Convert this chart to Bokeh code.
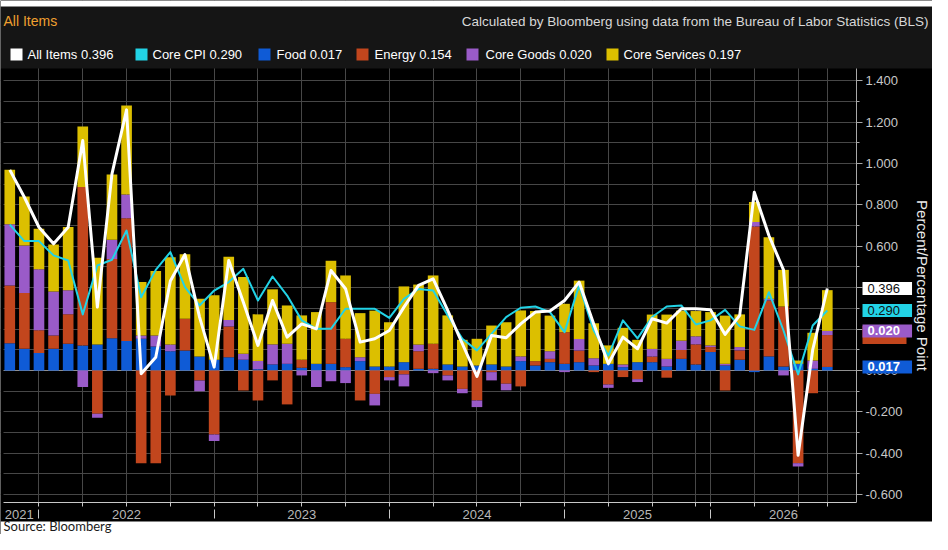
import numpy as np
from bokeh.plotting import figure
from bokeh.models import (ColumnDataSource, Range1d, FixedTicker, PrintfTickFormatter,
                          LinearAxis, Label, Grid, BoxAnnotation)
from bokeh.embed import file_html
from bokeh.resources import INLINE

# ---------------- data ----------------
food = [0.132, 0.105, 0.084, 0.105, 0.129, 0.121, 0.126, 0.156, 0.142, 0.153,
        0.116, 0.093, 0.097, 0.068, 0.052, 0.064, 0.052, 0.006, 0.029, 0.032,
        0.013, 0.032, 0.032, 0.016, 0.045, 0.019, 0.019, 0.040, 0.008, 0.008,
        0.029, 0.019, 0.024, 0.029, 0.019, 0.045, 0.024, 0.040, 0.032, 0.040,
        0.024, 0.032, 0.016, 0.040, 0.040, 0.019, 0.056, 0.029, 0.089, 0.024,
        0.052, -0.008, 0.068, 0.019, 0.032, 0.008, 0.017]
energy = [0.279, 0.269, 0.110, 0.064, 0.142, 0.765, -0.209, 0.383, 0.594, -0.448,
          -0.448, -0.121, 0.153, -0.048, -0.309, 0.148, -0.097, -0.145, -0.048, -0.164,
          0.039, 0.000, 0.298, 0.137, -0.145, -0.113, -0.032, -0.019, 0.085, 0.121,
          -0.024, -0.089, -0.145, -0.008, -0.064, -0.077, 0.021, 0.016, 0.153, 0.056,
          -0.008, -0.068, -0.032, -0.042, 0.027, -0.035, 0.043, 0.097, 0.024, -0.097,
          0.045, 0.696, 0.270, 0.290, -0.448, -0.110, 0.154]
core_goods = [0.295, 0.230, 0.295, 0.213, 0.116, -0.080, -0.019, 0.092, 0.114, 0.016,
              0.053, 0.032, 0.000, -0.052, -0.032, 0.032, 0.029, 0.040, 0.097, 0.097,
              -0.024, -0.080, -0.052, -0.061, 0.019, -0.056, -0.016, -0.058, 0.032, -0.013,
              -0.024, -0.021, -0.032, -0.040, -0.032, 0.023, 0.000, 0.037, -0.008, 0.056,
              0.035, -0.016, 0.013, -0.014, 0.037, 0.037, 0.045, 0.039, 0.008, 0.008,
              0.016, 0.021, 0.008, -0.024, -0.016, 0.040, 0.020]
core_services = [0.264, 0.237, 0.196, 0.227, 0.306, 0.293, 0.419, 0.316, 0.430, 0.258,
                 0.311, 0.422, 0.311, 0.279, 0.311, 0.306, 0.370, 0.225, 0.266, 0.185,
                 0.214, 0.250, 0.200, 0.306, 0.213, 0.270, 0.214, 0.366, 0.290, 0.330,
                 0.237, 0.129, 0.129, 0.188, 0.214, 0.222, 0.242, 0.172, 0.137, 0.282,
                 0.169, 0.089, 0.177, 0.108, 0.166, 0.214, 0.145, 0.122, 0.161, 0.233,
                 0.158, 0.097, 0.298, 0.177, 0.016, 0.134, 0.197]
all_items = [0.969, 0.837, 0.692, 0.612, 0.692, 1.111, 0.306, 0.950, 1.259, -0.016,
             0.064, 0.432, 0.560, 0.258, 0.016, 0.531, 0.330, 0.121, 0.338, 0.161,
             0.225, 0.201, 0.483, 0.395, 0.137, 0.153, 0.193, 0.306, 0.411, 0.443,
             0.290, 0.129, -0.029, 0.169, 0.158, 0.225, 0.282, 0.287, 0.338, 0.427,
             0.225, 0.032, 0.161, 0.105, 0.250, 0.229, 0.298, 0.298, 0.293, 0.174,
             0.266, 0.861, 0.652, 0.486, -0.410, 0.100, 0.396]
core_cpi = [0.705, 0.625, 0.625, 0.556, 0.531, 0.271, 0.507, 0.535, 0.676, 0.354,
            0.486, 0.572, 0.403, 0.314, 0.386, 0.427, 0.491, 0.338, 0.454, 0.362,
            0.242, 0.201, 0.201, 0.298, 0.298, 0.298, 0.254, 0.346, 0.394, 0.386,
            0.266, 0.153, 0.097, 0.177, 0.258, 0.303, 0.309, 0.282, 0.185, 0.411,
            0.193, 0.072, 0.242, 0.155, 0.258, 0.309, 0.314, 0.222, 0.242, 0.293,
            0.213, 0.196, 0.378, 0.193, -0.019, 0.217, 0.290]

year_labels = ["2021", "2022", "2023", "2024", "2025", "2026"]
year_label_pos = [0.65, 8, 20, 32, 43, 53]
year_sep_pos = [2, 14, 26, 38, 48]
quarter_pos = [2, 5, 8, 11, 14, 17, 20, 23, 26, 29, 32, 35, 38, 41, 44, 47, 48, 51, 54, 56]
y_ticks = [-0.6, -0.4, -0.2, 0.0, 0.2, 0.4, 0.6, 0.8, 1.0, 1.2, 1.4]
y_minor = [round(-0.6 + 0.1 * k, 1) for k in range(21)]

# ---------------- styles / geometry ----------------
FONT = "Liberation Sans"
C_ALL = "#ffffff"
C_CORE = "#22d3e6"
C_FOOD = "#0f5bd6"
C_ENERGY = "#c2461d"
C_GOODS = "#9a5bc8"
C_SERV = "#dcbf00"
GRID = "#474747"
HEADER_BG = "#151515"
BLACK = "#000000"
WHITE = "#ffffff"

n = len(all_items)
idx = np.arange(n)

W, H = 932, 534
FL, FR, FT, FB = 3, 856, 68, 502          # plotting area inside the canvas (px)
X0, X1 = -0.43, 58.0                       # data extent of the plotting area
Y0, Y1 = -0.638, 1.459
PX_X = (FR - FL) / (X1 - X0)
PX_Y = (FB - FT) / (Y1 - Y0)
XS, XE = X0 - FL / PX_X, X1 + (W - FR) / PX_X
YS, YE = Y0 - (H - FB) / PX_Y, Y1 + FT / PX_Y


def dx(px):
    return XS + px / PX_X


def dy(py):
    return YE - py / PX_Y


p = figure(width=W, height=H, x_range=Range1d(XS, XE), y_range=Range1d(YS, YE),
           x_axis_type=None, y_axis_type=None, toolbar_location=None,
           output_backend="svg", background_fill_color=BLACK,
           border_fill_color=BLACK, outline_line_color=None, min_border=0)

# grids (then masked outside the plotting area)
p.add_layout(Grid(dimension=1, ticker=FixedTicker(ticks=y_minor), grid_line_color=GRID))
p.add_layout(Grid(dimension=0, ticker=FixedTicker(ticks=quarter_pos), grid_line_color=GRID))
p.add_layout(Grid(dimension=1, ticker=FixedTicker(ticks=[0.0]), grid_line_color="#8f8f8f"))


def box(left, right, top, bottom, color, level="underlay"):
    return BoxAnnotation(left=left, right=right, top=top, bottom=bottom,
                         fill_color=color, fill_alpha=1.0, line_color=None, level=level)


p.add_layout(box(XS, X0, Y1, Y0, BLACK))
p.add_layout(box(X1, XE, Y1, YS, BLACK))
p.add_layout(box(XS, X1, Y0, YS, BLACK))
p.add_layout(box(XS, XE, YE, Y1, HEADER_BG))
p.add_layout(box(XS, XE, YE, dy(6), WHITE))
p.add_layout(box(XS, XE, dy(521), YS, WHITE))

# right y axis drawn at the right edge of the plotting area
ya = LinearAxis(fixed_location=X1, bounds=(Y0, Y1),
                ticker=FixedTicker(ticks=y_ticks, minor_ticks=y_minor),
                formatter=PrintfTickFormatter(format="%.3f"),
                axis_line_color="#a8a8a8", major_tick_line_color="#a8a8a8",
                minor_tick_line_color="#a8a8a8", major_tick_out=6, major_tick_in=0,
                minor_tick_out=3, minor_tick_in=0, major_label_standoff=3,
                major_label_text_color="#c8c8c8", major_label_text_font=FONT,
                major_label_text_font_size="13px")
p.add_layout(ya, "right")

# bottom x axes: line + quarter ticks + year separators, and the year labels
axb = LinearAxis(fixed_location=Y0, bounds=(X0, X1),
                 ticker=FixedTicker(ticks=year_sep_pos, minor_ticks=quarter_pos),
                 axis_line_color="#c8c8c8",
                 major_tick_line_color="#c8c8c8", major_tick_in=-7, major_tick_out=16,
                 minor_tick_line_color="#c8c8c8", minor_tick_in=0, minor_tick_out=4,
                 major_label_text_font_size="0px", major_label_standoff=0,
                 major_label_overrides={s: "" for s in year_sep_pos})
axl = LinearAxis(fixed_location=Y0, bounds=(X0, X1), ticker=FixedTicker(ticks=year_label_pos),
                 axis_line_color=None, major_tick_line_color=None, minor_tick_line_color=None,
                 major_tick_out=0, major_tick_in=0, minor_tick_out=0, minor_tick_in=0,
                 major_label_overrides={pos: lab for pos, lab in zip(year_label_pos, year_labels)},
                 major_label_standoff=7, major_label_text_color="#b8b8b8",
                 major_label_text_font=FONT, major_label_text_font_size="13px")
p.add_layout(axb, "below")
p.add_layout(axl, "below")

# stacked bars: positives and negatives stacked separately
comps = [(food, C_FOOD), (energy, C_ENERGY), (core_goods, C_GOODS), (core_services, C_SERV)]
pos_base = np.zeros(n)
neg_base = np.zeros(n)
for vals, col in comps:
    v = np.array(vals, dtype=float)
    pos = np.where(v > 0, v, 0.0)
    neg = np.where(v < 0, v, 0.0)
    src = ColumnDataSource(dict(x=idx, pb=pos_base.copy(), pt=pos_base + pos,
                                nb=neg_base.copy(), nt=neg_base + neg))
    p.vbar(x="x", bottom="pb", top="pt", width=0.73, fill_color=col, line_color=None, source=src)
    p.vbar(x="x", bottom="nb", top="nt", width=0.73, fill_color=col, line_color=None, source=src)
    pos_base = pos_base + pos
    neg_base = neg_base + neg

p.line(idx, core_cpi, line_color=C_CORE, line_width=2, line_join="round")
p.line(idx, all_items, line_color=C_ALL, line_width=3, line_join="round")

# ---------------- header ----------------
p.add_layout(Label(x=dx(3), y=dy(20.5), text="All Items", text_color="#f0a030",
                   text_font=FONT, text_font_size="14px", text_baseline="middle"))
p.add_layout(Label(x=dx(928), y=dy(20.5),
                   text="Calculated by Bloomberg using data from the Bureau of Labor Statistics (BLS)",
                   text_color="#d8d8d8", text_font=FONT, text_font_size="13.5px",
                   text_baseline="middle", text_align="right"))

# legend row: colour swatch + label with the latest value
legend_rows = [("All Items", all_items, C_ALL), ("Core CPI", core_cpi, C_CORE),
               ("Food", food, C_FOOD), ("Energy", energy, C_ENERGY),
               ("Core Goods", core_goods, C_GOODS), ("Core Services", core_services, C_SERV)]
legend_swatch_x = [16, 141, 264, 362, 472, 612]     # swatch centres (px)
legend_text_x = [27, 152, 276, 374, 485, 623]       # label starts (px)
LEG_Y = 54
for (name, vals, col), swx, tx in zip(legend_rows, legend_swatch_x, legend_text_x):
    p.add_layout(box(dx(swx - 6), dx(swx + 6), dy(LEG_Y - 6), dy(LEG_Y + 6), col,
                     level="annotation"))
    p.add_layout(Label(x=dx(tx), y=dy(LEG_Y), text=f"{name}  {vals[-1]:.3f}",
                       text_color="#ffffff", text_font=FONT, text_font_size="13px",
                       text_baseline="middle"))

# y axis title
p.add_layout(Label(x=dx(922), y=dy(285), text="Percent/Percentage Point", angle=-np.pi / 2,
                   text_color="#ececec", text_font=FONT, text_font_size="15px",
                   text_align="center", text_baseline="middle"))

# value tags on the right axis
cum_energy = food[-1] + energy[-1]
cum_goods = cum_energy + core_goods[-1]
TAG_HALF = 9.0 / PX_Y


def tag(ypos, val, bg, fg, style):
    p.add_layout(Label(x=X1, y=ypos, x_offset=6, text=f"{val:.3f}", text_color=fg,
                       text_font=FONT, text_font_size="13px", text_font_style=style,
                       text_baseline="middle", text_align="left",
                       background_fill_color=bg, border_line_color=None,
                       padding=dict(left=5, right=12, top=2, bottom=2)))


tag(food[-1], food[-1], C_FOOD, "#ffffff", "bold")
# energy tag sits behind the core-goods tag: only its lower edge shows
p.add_layout(box(dx(862), dx(906), cum_energy + TAG_HALF, cum_energy - TAG_HALF, C_ENERGY,
                 level="annotation"))
tag(cum_goods, core_goods[-1], C_GOODS, "#ffffff", "bold")
tag(core_cpi[-1], core_cpi[-1], C_CORE, "#101010", "normal")
tag(all_items[-1], all_items[-1], C_ALL, "#101010", "normal")

# source line
p.add_layout(Label(x=dx(3), y=dy(533), text="Source: Bloomberg", text_color="#1a1a1a",
                   text_font="Lato", text_font_size="13px", text_baseline="bottom"))

open("out.html", "w").write(file_html(p, INLINE))
